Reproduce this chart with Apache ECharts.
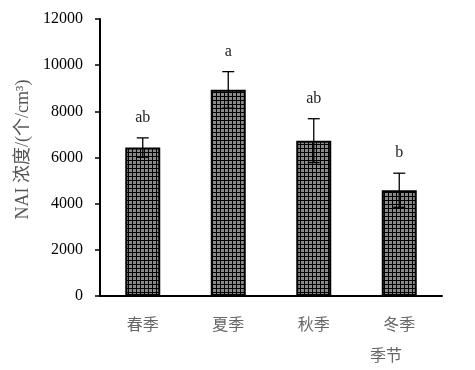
<!DOCTYPE html>
<html><head><meta charset="utf-8">
<script src="https://cdn.jsdelivr.net/npm/echarts@6/dist/echarts.min.js"></script>
<style>html,body{margin:0;padding:0;background:#fff}#c{width:475px;height:370px}</style>
</head><body><div id="c"></div>
<script>
var categories = ['春季', '夏季', '秋季', '冬季'];
var means = [6430, 8930, 6730, 4580];
var errors = [420, 790, 950, 740];
var letters = ['ab', 'a', 'ab', 'b'];
var yTicks = [0, 2000, 4000, 6000, 8000, 10000, 12000];

var pc = document.createElement('canvas');
pc.width = 4; pc.height = 4;
var g = pc.getContext('2d');
g.fillStyle = '#8a8a8a'; g.fillRect(0, 0, 4, 4);
g.fillStyle = '#000'; g.fillRect(0, 0, 4, 1); g.fillRect(0, 0, 1, 4);

var chart = echarts.init(document.getElementById('c'));
var serif = '"Liberation Serif", "DejaVu Serif", serif';
chart.setOption({
  animation: false,
  grid: {left: 100, right: 33, top: 19, bottom: 74},
  title: {text: '季节', left: 365, top: 342, textStyle: {fontFamily: '"Noto Sans CJK SC"', fontSize: 16, fontWeight: 'normal', color: '#666'}},
  xAxis: {
    type: 'category', data: categories,
    axisLine: {lineStyle: {color: '#000', width: 2}},
    axisTick: {inside: true, length: 6, lineStyle: {color: '#000', width: 1.5}},
    axisLabel: {margin: 20, fontFamily: '"Noto Sans CJK SC"', fontSize: 16, color: '#666'}
  },
  yAxis: {
    type: 'value', min: yTicks[0], max: yTicks[yTicks.length - 1], interval: 2000,
    name: 'NAI 浓度/(个/cm³)', nameLocation: 'middle', nameGap: 64, nameRotate: 90,
    nameTextStyle: {fontFamily: '"Liberation Serif", "Noto Sans CJK SC"', fontSize: 18, color: '#555', padding: [0, 0, 0, 16]},
    axisLine: {show: true, lineStyle: {color: '#000', width: 2}},
    axisTick: {show: true, length: 5, lineStyle: {color: '#000', width: 1.5}},
    splitLine: {show: false},
    axisLabel: {margin: 17, fontFamily: serif, fontSize: 16, color: '#000',
      formatter: function (v) { return String(v); }}
  },
  series: [
    {
      type: 'bar', data: means, barWidth: 35,
      itemStyle: {color: {image: pc, repeat: 'repeat'}, borderColor: '#000', borderWidth: 2}
    },
    {
      type: 'custom', z: 5,
      data: means.map(function (m, i) { return [i, m, errors[i]]; }),
      renderItem: function (params, api) {
        var i = api.value(0), m = api.value(1), e = api.value(2);
        var top = api.coord([i, m + e]), bot = api.coord([i, m - e]);
        var x = top[0], hw = 6;
        var st = {stroke: '#000', lineWidth: 1.3};
        return {type: 'group', children: [
          {type: 'line', shape: {x1: x, y1: top[1], x2: x, y2: bot[1]}, style: st},
          {type: 'line', shape: {x1: x - hw, y1: top[1], x2: x + hw, y2: top[1]}, style: st},
          {type: 'line', shape: {x1: x - hw, y1: bot[1], x2: x + hw, y2: bot[1]}, style: st},
          {type: 'text', style: {text: letters[params.dataIndex], x: x, y: top[1] - 20,
            align: 'center', verticalAlign: 'middle', font: '16px ' + serif, fill: '#222'}}
        ]};
      }
    }
  ]
});
</script></body></html>
